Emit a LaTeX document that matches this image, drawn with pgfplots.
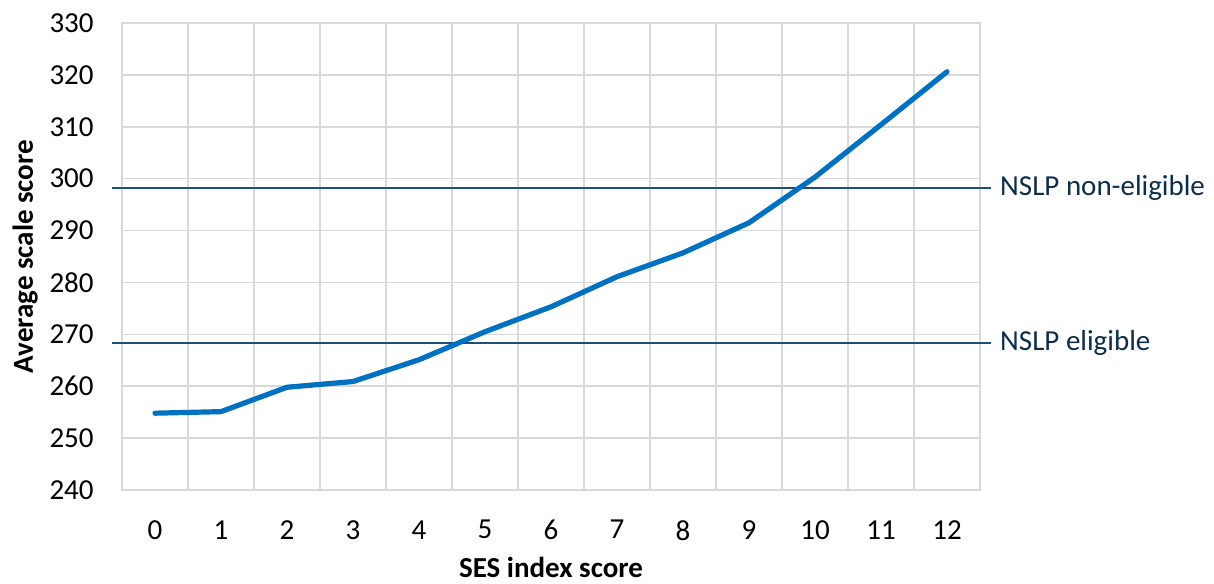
\documentclass[border=0pt]{standalone}
\usepackage{pgfplots}
\pgfplotsset{compat=1.18}
\usepackage{fontspec}
\setmainfont{Carlito}
\definecolor{gridgray}{HTML}{D9D9D9}
\definecolor{lineblue}{HTML}{0070C0}
\definecolor{refblue}{HTML}{1F4E79}
\definecolor{reftext}{HTML}{0D2D4A}
\begin{document}
\fontsize{14.5}{17}\selectfont
\begin{tikzpicture}
  \begin{axis}[
      name=ax,
      scale only axis,
      width=429pt, height=233.5pt,
      xmin=-0.5, xmax=12.5,
      ymin=240, ymax=330,
      xtick={0,...,12},
      ytick={240,250,...,330},
      minor xtick={0.5,1.5,...,11.5},
      xminorgrids=true, ymajorgrids=true,
      grid style={gridgray, line width=0.75pt},
      minor grid style={gridgray, line width=0.75pt},
      axis line style={gridgray, line width=0.75pt},
      major tick length=0pt, minor tick length=0pt,
      tick style={draw=none},
      /pgf/number format/assume math mode=true,
      /pgf/number format/1000 sep={},
      yticklabel style={inner sep=0pt, anchor=east, xshift=-14pt},
      xticklabel style={inner sep=0pt, anchor=north, yshift=-15pt},
      xlabel={SES index score},
      ylabel={Average scale score},
      xlabel style={font=\bfseries, at={(axis description cs:0.5,-0.166)}, anchor=center},
      ylabel style={font=\bfseries, at={(axis description cs:-0.113,0.5)}, anchor=center},
      clip=false,
    ]
    % reference lines
    \addplot[refblue, line width=1pt] coordinates {(-0.65,298.2) (12.67,298.2)}
      node[pos=1, anchor=west, text=reftext, inner sep=4pt] {NSLP non-eligible};
    \addplot[refblue, line width=1pt] coordinates {(-0.65,268.3) (12.67,268.3)}
      node[pos=1, anchor=west, text=reftext, inner sep=4pt] {NSLP eligible};
    % average scale score
    \addplot[lineblue, line width=2.6pt, line cap=round, line join=round] coordinates {
      (0, 254.8)
      (1, 255.1)
      (2, 259.8)
      (3, 260.9)
      (4, 265.1)
      (5, 270.5)
      (6, 275.3)
      (7, 281.1)
      (8, 285.7)
      (9, 291.5)
      (10, 300.3)
      (11, 310.4)
      (12, 320.6)
    };
  \end{axis}
  \pgfresetboundingbox
  \path[use as bounding box] ([xshift=-61pt,yshift=-47pt]ax.south west)
    rectangle ([xshift=117pt,yshift=11.5pt]ax.north east);
\end{tikzpicture}
\end{document}
